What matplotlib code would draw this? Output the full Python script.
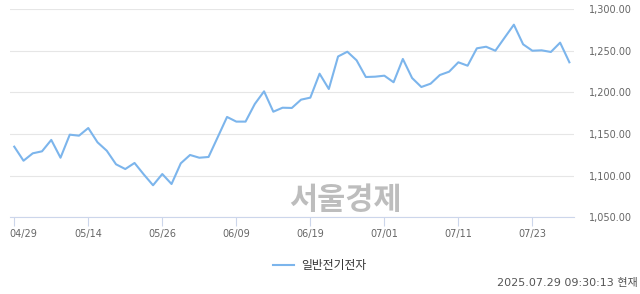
import numpy as np
import matplotlib
matplotlib.use("Agg")
import matplotlib.pyplot as plt
import matplotlib.transforms as mtransforms


# trading days (KRX) and index close values
dates = ["04/29", "04/30", "05/02", "05/07", "05/08", "05/09", "05/12", "05/13",
         "05/14", "05/15", "05/16", "05/19", "05/20", "05/21", "05/22", "05/23",
         "05/26", "05/27", "05/28", "05/29", "05/30", "06/02", "06/04", "06/05",
         "06/09", "06/10", "06/11", "06/12", "06/13", "06/16", "06/17", "06/18",
         "06/19", "06/20", "06/23", "06/24", "06/25", "06/26", "06/27", "06/30",
         "07/01", "07/02", "07/03", "07/04", "07/07", "07/08", "07/09", "07/10",
         "07/11", "07/14", "07/15", "07/16", "07/17", "07/18", "07/21", "07/22",
         "07/23", "07/24", "07/25", "07/28", "07/29"]
values = [1134.9, 1118.0, 1126.9, 1129.3, 1143.0, 1121.6, 1149.3, 1148.1,
          1157.3, 1140.1, 1130.0, 1113.7, 1108.0, 1115.3, 1101.5, 1088.5,
          1102.0, 1090.0, 1114.9, 1124.9, 1121.6, 1122.5, 1146.5, 1170.6,
          1165.0, 1165.0, 1186.2, 1201.4, 1176.9, 1181.7, 1181.4, 1191.4,
          1193.8, 1222.6, 1204.2, 1243.3, 1249.0, 1238.7, 1218.6, 1219.0,
          1220.2, 1212.3, 1240.3, 1217.4, 1206.6, 1210.6, 1221.0, 1225.0,
          1236.3, 1232.2, 1253.1, 1255.0, 1250.2, 1265.9, 1281.5, 1257.9,
          1250.2, 1250.7, 1248.7, 1259.9, 1236.3]
tick_dates = ["04/29", "05/14", "05/26", "06/09", "06/19", "07/01", "07/11", "07/23"]
y_ticks = [1050, 1100, 1150, 1200, 1250, 1300]
series_name = "일반전기전자"
stamp = "2025.07.29 09:30:13 현재"
watermark = "서울경제"

fonts = ["DejaVu Sans", "Noto Sans CJK KR"]
plt.rcParams["font.family"] = fonts

fig = plt.figure(figsize=(6.4, 2.94), dpi=100)
ax = fig.add_axes([0.015625, 0.2609, 0.88125, 0.7075])

x = np.arange(len(dates))
ax.plot(x, values, color="#7cb5ec", lw=1.5, label=series_name, zorder=3,
        solid_joinstyle="round")

ax.set_xlim(-0.46, 60.5)
ax.set_ylim(1050, 1300)

# y axis on the right, highcharts-ish grid
ax.yaxis.tick_right()
ax.set_yticks(y_ticks)
ax.set_yticklabels(["{:,.2f}".format(v) for v in y_ticks])
ax.tick_params(axis="y", length=0, pad=10.8, labelsize=7, labelcolor="#666666")
ax.grid(axis="y", color="#e6e6e6", lw=0.8)
ax.set_axisbelow(True)

ax.set_xticks([dates.index(d) for d in tick_dates])
ax.set_xticklabels(tick_dates)
ax.tick_params(axis="x", length=6.5, width=0.8, color="#ccd6eb", pad=2,
               labelsize=7, labelcolor="#666666")
# first label is pushed right so it stays inside the chart
first = ax.get_xticklabels()[0]
first.set_horizontalalignment("left")
first.set_transform(first.get_transform() +
                    mtransforms.ScaledTranslation(-5 / 100, 0, fig.dpi_scale_trans))

for s in ["top", "left", "right"]:
    ax.spines[s].set_visible(False)
ax.spines["bottom"].set_color("#ccd6eb")
ax.spines["bottom"].set_linewidth(0.8)

ax.text(0.539, 0.32, watermark, transform=fig.transFigure, ha="center", va="center",
        fontsize=22, fontweight="bold", color="#bdbdbd", family=["Noto Sans CJK KR"],
        zorder=1)

fig.legend(loc="center", bbox_to_anchor=(0.5, 0.097), frameon=False,
           prop={"family": ["Noto Sans CJK KR"], "size": 8.5},
           handlelength=1.8, handletextpad=0.6, labelcolor="#333333")

fig.text(0.997, 0.038, stamp, ha="right", va="center", fontsize=8, color="#555555")

fig.savefig("out.png", dpi=100)
